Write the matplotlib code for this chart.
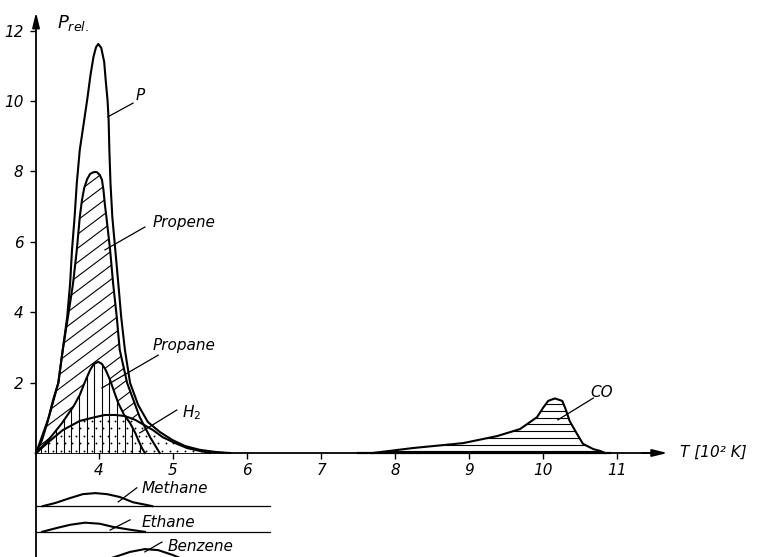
import numpy as np
import matplotlib
matplotlib.use("Agg")
import matplotlib.pyplot as plt
from matplotlib.patches import Polygon
from matplotlib.collections import LineCollection

# thermal desorption: relative pressure vs temperature [10^2 K]
p_T = [3.15, 3.23, 3.30, 3.38, 3.45, 3.51, 3.57, 3.61, 3.635, 3.67, 3.70, 3.74, 3.80, 3.84,
       3.885, 3.925, 3.96, 3.99, 4.03, 4.07, 4.09, 4.115, 4.13, 4.14, 4.155, 4.18, 4.22, 4.26,
       4.30, 4.35, 4.42, 4.53, 4.66, 4.82, 4.99, 5.16, 5.36, 5.57, 5.77]
p_val = [0.00, 0.37, 0.85, 1.51, 1.99, 2.93, 3.86, 4.83, 5.77, 6.70, 7.67, 8.61, 9.46, 10.03,
         10.74, 11.25, 11.53, 11.62, 11.51, 11.11, 10.60, 10.03, 9.46, 8.61, 7.67, 6.70, 5.77, 4.83,
         3.86, 2.93, 1.99, 1.36, 0.88, 0.60, 0.37, 0.20, 0.09, 0.03, 0.00]

propene_T = [3.15, 3.32, 3.45, 3.51, 3.58, 3.65, 3.70, 3.74, 3.77, 3.80, 3.84, 3.88, 3.93, 3.97,
             4.01, 4.04, 4.06, 4.08, 4.10, 4.15, 4.19, 4.24, 4.28, 4.38, 4.55, 4.69, 4.82]
propene_val = [0.00, 1.00, 1.99, 2.93, 3.86, 4.83, 5.77, 6.70, 7.19, 7.53, 7.78, 7.93, 7.98, 7.98,
               7.90, 7.76, 7.47, 7.05, 6.70, 5.77, 4.83, 3.86, 2.93, 1.99, 1.02, 0.45, 0.00]

propane_T = [3.15, 3.34, 3.50, 3.66, 3.74, 3.81, 3.88, 3.93, 3.99, 4.04, 4.09, 4.15, 4.22, 4.26,
             4.34, 4.42, 4.49, 4.53, 4.58, 4.62]
propane_val = [0.00, 0.43, 0.85, 1.34, 1.65, 2.02, 2.36, 2.53, 2.59, 2.53, 2.36, 2.07, 1.65, 1.42,
               1.08, 0.85, 0.57, 0.37, 0.14, 0.00]

h2_T = [3.15, 3.30, 3.51, 3.74, 3.95, 4.08, 4.22, 4.35, 4.49, 4.59, 4.73, 4.86, 5.03, 5.19, 5.36, 5.50]
h2_val = [0.00, 0.28, 0.65, 0.91, 1.02, 1.08, 1.08, 1.05, 0.94, 0.82, 0.65, 0.45, 0.28, 0.14, 0.06, 0.00]

co_T = [7.70, 8.24, 8.92, 9.38, 9.69, 9.92, 10.00, 10.07, 10.16, 10.26, 10.30, 10.36, 10.46,
        10.54, 10.68, 10.77, 10.84]
co_val = [0.00, 0.14, 0.28, 0.48, 0.68, 1.02, 1.28, 1.48, 1.55, 1.48, 1.28, 0.91, 0.54,
          0.26, 0.11, 0.06, 0.00]

# minor products, drawn in small strips under the T axis
methane_T = [3.24, 3.41, 3.61, 3.78, 3.95, 4.11, 4.28, 4.46, 4.65, 4.72]
methane_val = [0.00, 0.09, 0.23, 0.34, 0.37, 0.34, 0.26, 0.11, 0.03, 0.00]
ethane_T = [3.23, 3.43, 3.61, 3.81, 4.01, 4.19, 4.42, 4.62]
ethane_val = [0.00, 0.11, 0.20, 0.26, 0.23, 0.14, 0.06, 0.00]
benzene_T = [4.08, 4.22, 4.42, 4.62, 4.80, 5.00, 5.16]
benzene_val = [0.00, 0.09, 0.23, 0.31, 0.28, 0.14, 0.00]

x_ticks = [4, 5, 6, 7, 8, 9, 10, 11]
y_ticks = [2, 4, 6, 8, 10, 12]

T0 = 3.149          # where the p axis stands
strips = [("Methane", methane_T, methane_val, -1.51, (4.26, -1.39), (4.51, -0.99), (4.58, -1.14)),
          ("Ethane", ethane_T, ethane_val, -2.24, (4.15, -2.19), (4.42, -1.90), (4.58, -2.10)),
          ("Benzene", benzene_T, benzene_val, -3.04, (4.62, -2.81), (4.85, -2.53), (4.93, -2.78))]

fnt = dict(family="DejaVu Sans", style="italic", size=11)

fig = plt.figure(figsize=(7.59, 5.57), dpi=100)
ax = fig.add_axes([0, 0, 1, 1])


def area(T, v, z):
    poly = Polygon(np.column_stack([T, v]), closed=True, facecolor="white",
                   edgecolor="none", zorder=z)
    ax.add_patch(poly)
    return poly


def hatch(segs, clip, z, lw=0.8):
    lc = LineCollection(segs, colors="black", linewidths=lw, zorder=z)
    ax.add_collection(lc)
    lc.set_clip_path(clip)


propene_patch = area(propene_T, propene_val, 1)
slope = 1.58
hatch([[(c, 0), (c + 10 / slope, 10)] for c in np.arange(-2.5, 5.0, 0.253)], propene_patch, 2)

propane_patch = area(propane_T, propane_val, 3)
h2_patch = area(h2_T, h2_val, 4)

# dotted fill for H2
gx, gy = [], []
for i, yy in enumerate(np.arange(0.07, 1.1, 0.21)):
    off = 0.05 if i % 2 else 0.0
    for xx in np.arange(3.17 + off, 5.6, 0.105):
        gx.append(xx)
        gy.append(yy)
dots = ax.scatter(gx, gy, s=1.8, color="black", linewidths=0, zorder=5)
dots.set_clip_path(h2_patch)

hatch([[(x, 0), (x, 3)] for x in np.arange(3.11, 4.8, 0.103)], propane_patch, 6)

co_patch = area(co_T, co_val, 4)
hatch([[(7.5, y), (11.0, y)] for y in np.arange(0.05, 1.6, 0.19)], co_patch, 5)

for T, v in [(p_T, p_val), (propene_T, propene_val), (propane_T, propane_val),
             (h2_T, h2_val), (co_T, co_val)]:
    ax.plot(T, v, color="black", lw=1.5, zorder=10, solid_joinstyle="round")
ax.plot([7.5, 10.9], [0, 0], color="black", lw=1.6, zorder=10)

# leaders and labels
labels = [("P", (4.12, 9.55), (4.46, 9.94), (4.49, 10.03)),
          ("Propene", (4.08, 5.77), (4.62, 6.42), (4.72, 6.42)),
          ("Propane", (4.04, 1.85), (4.80, 2.78), (4.72, 2.93)),
          ("$H_2$", (4.55, 0.57), (5.05, 1.22), (5.12, 1.02)),
          ("CO", (10.20, 0.94), (10.68, 1.56), (10.64, 1.59))]
for txt, a, b, pos in labels:
    ax.plot([a[0], b[0]], [a[1], b[1]], color="black", lw=0.9, zorder=11)
    ax.text(pos[0], pos[1], txt, ha="left", va="baseline", zorder=12, **fnt)

for name, T, v, base, a, b, pos in strips:
    ax.plot([T0, 6.31], [base, base], color="black", lw=0.9)
    ax.plot(T, np.array(v) + base, color="black", lw=1.5)
    ax.plot([a[0], b[0]], [a[1], b[1]], color="black", lw=0.9)
    ax.text(pos[0], pos[1], name, ha="left", va="baseline", **fnt)

# axes with arrow heads
for s in ["top", "right"]:
    ax.spines[s].set_visible(False)
ax.spines["left"].set_position(("data", T0))
ax.spines["bottom"].set_position(("data", 0))
ax.spines["left"].set_bounds(-2.96, 12.3)
ax.spines["bottom"].set_bounds(T0, 11.5)
ax.spines["left"].set_linewidth(1.3)
ax.spines["bottom"].set_linewidth(1.3)
ax.annotate("", xy=(T0, 12.6), xytext=(T0, 12.0),
            arrowprops=dict(arrowstyle="-|>,head_length=0.9,head_width=0.22", color="black", lw=1.3))
ax.annotate("", xy=(11.72, 0), xytext=(11.3, 0),
            arrowprops=dict(arrowstyle="-|>,head_length=0.9,head_width=0.22", color="black", lw=1.3))

ax.set_xticks(x_ticks)
ax.set_xticklabels([str(t) for t in x_ticks], **fnt)
ax.set_yticks(y_ticks)
ax.set_yticklabels([str(t) for t in y_ticks], **fnt)
ax.tick_params(axis="x", direction="out", length=4, width=1, pad=3)
ax.tick_params(axis="y", direction="out", length=4, width=1, pad=5)

ax.text(3.43, 12.07, "$P_{rel.}$", fontsize=13, ha="left", va="baseline")
ax.text(11.85, -0.11, "T [10² K]", ha="left", va="baseline", **fnt)

ax.set_xlim(2.662, 12.919)
ax.set_ylim(-2.955, 12.869)
ax.patch.set_visible(False)

fig.savefig("out.png", dpi=100, facecolor="white")
